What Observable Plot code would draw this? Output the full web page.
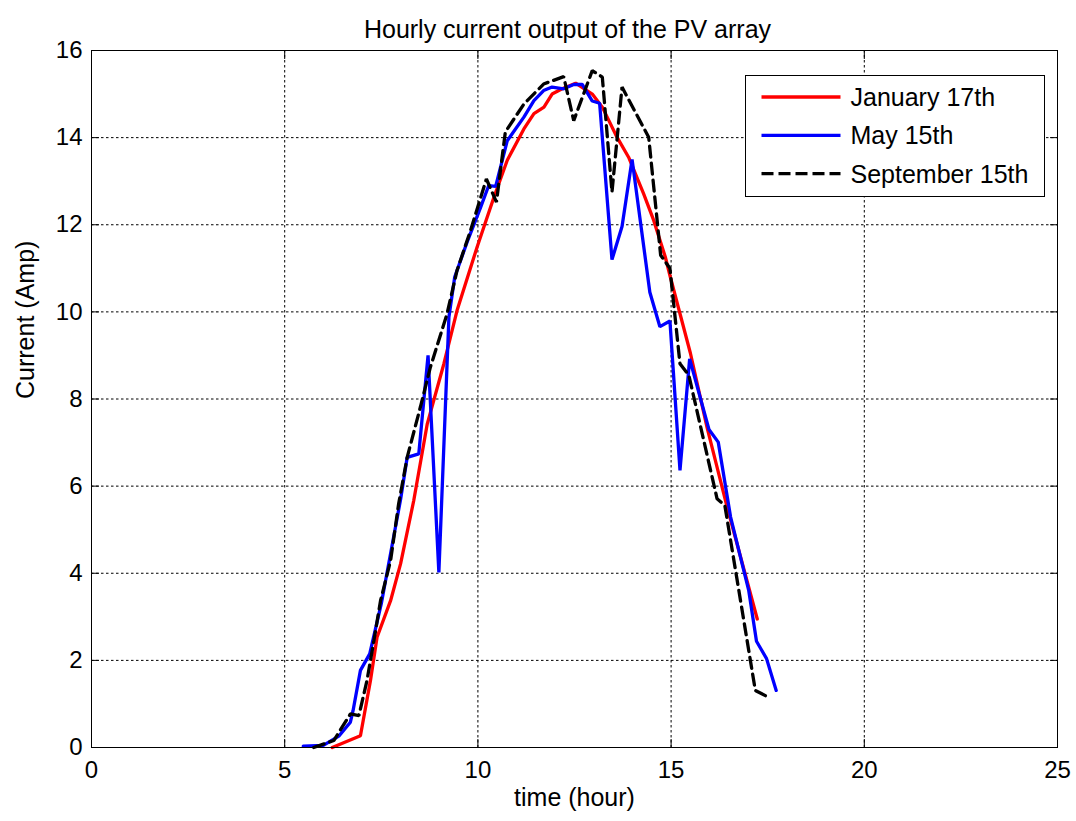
<!DOCTYPE html>
<html>
<head>
<meta charset="utf-8">
<script src="https://cdn.jsdelivr.net/npm/d3@7"></script>
<script src="https://cdn.jsdelivr.net/npm/@observablehq/plot@0.6"></script>
<style>
  html, body { margin: 0; padding: 0; background: #fff; }
  #chart { width: 1076px; height: 821px; }
</style>
</head>
<body>
<div id="chart"></div>
<script>
// ---- Data ----
const seriesNames = ["January 17th", "May 15th", "September 15th"];
const seriesColors = ["#ff0000", "#0000ff", "#000000"];

const janHours = [6.23, 6.96, 7.22, 7.39, 7.74, 8.0, 8.34, 8.69, 9.12, 9.46, 9.98, 10.41, 10.76, 11.19, 11.45, 11.71, 11.92, 12.18, 12.53, 12.96, 13.22, 13.6, 13.9, 14.29, 14.55, 14.85, 14.98, 15.5, 15.93, 16.45, 17.23];
const janCurrent = [0.0, 0.27, 1.54, 2.53, 3.37, 4.22, 5.67, 7.43, 8.81, 10.03, 11.49, 12.62, 13.48, 14.2, 14.55, 14.7, 15.0, 15.12, 15.25, 15.0, 14.7, 14.01, 13.55, 12.71, 12.1, 11.26, 10.8, 9.05, 7.35, 5.52, 2.95];

const mayHours = [5.48, 6.0, 6.4, 6.7, 6.77, 6.96, 7.2, 7.5, 7.75, 8.0, 8.17, 8.47, 8.71, 8.99, 9.25, 9.4, 9.72, 10.07, 10.28, 10.46, 10.76, 11.19, 11.45, 11.7, 11.92, 12.22, 12.48, 12.7, 12.96, 13.15, 13.47, 13.73, 13.99, 14.45, 14.71, 14.97, 15.23, 15.48, 15.98, 16.22, 16.54, 17.01, 17.21, 17.47, 17.72];
const mayCurrent = [0.03, 0.05, 0.26, 0.58, 0.85, 1.77, 2.15, 3.3, 4.5, 5.7, 6.66, 6.74, 9.0, 4.02, 9.88, 10.8, 11.6, 12.4, 12.9, 12.88, 13.93, 14.47, 14.85, 15.08, 15.16, 15.12, 15.22, 15.22, 14.84, 14.79, 11.2, 11.96, 13.5, 10.45, 9.66, 9.79, 6.36, 8.92, 7.3, 7.01, 5.29, 3.6, 2.44, 2.04, 1.31];

const sepHours = [5.75, 6.27, 6.7, 6.92, 7.13, 7.31, 7.48, 7.74, 7.95, 8.17, 8.51, 8.77, 9.2, 9.46, 9.81, 10.22, 10.48, 10.71, 11.19, 11.7, 12.22, 12.48, 12.96, 13.22, 13.47, 13.73, 14.42, 14.73, 14.97, 15.23, 15.46, 16.19, 16.39, 17.18, 17.44];
const sepCurrent = [0.0, 0.16, 0.77, 0.73, 1.54, 2.46, 3.37, 4.29, 5.6, 6.66, 7.81, 8.73, 9.95, 10.95, 11.87, 13.05, 12.52, 14.13, 14.77, 15.23, 15.4, 14.39, 15.54, 15.39, 12.75, 15.16, 14.01, 11.3, 11.0, 8.81, 8.54, 5.71, 5.56, 1.31, 1.19];

const xTicks = [0, 5, 10, 15, 20, 25];
const yTicks = [0, 2, 4, 6, 8, 10, 12, 14, 16];

const titleText = "Hourly current output of the PV array";
const xLabel = "time (hour)";
const yLabel = "Current (Amp)";

const toRows = (hs, vs) => hs.map((h, i) => ({h, v: vs[i]}));
const jan = toRows(janHours, janCurrent);
const may = toRows(mayHours, mayCurrent);
const sep = toRows(sepHours, sepCurrent);

const FONT = "'Liberation Sans', Arial, Helvetica, sans-serif";
const DASH = "11,6";

const plot = Plot.plot({
  width: 1076,
  height: 821,
  marginTop: 50,
  marginBottom: 74,
  marginLeft: 91,
  marginRight: 19,
  style: { fontFamily: FONT, fontSize: "24px", background: "#fff", color: "#000", overflow: "visible" },
  x: { domain: [0, 25], ticks: xTicks },
  y: { domain: [0, 16], ticks: yTicks },
  marks: [
    Plot.gridX(xTicks.slice(1, -1), { stroke: "#000", strokeOpacity: 1, strokeWidth: 1, strokeDasharray: "2.5,2.5" }),
    Plot.gridY(yTicks.slice(1, -1), { stroke: "#000", strokeOpacity: 1, strokeWidth: 1, strokeDasharray: "2.5,2.5" }),
    Plot.axisX(xTicks, { anchor: "bottom", tickSize: 0, tickPadding: 13, label: null, fontSize: 24 }),
    Plot.axisY(yTicks, { anchor: "left", tickSize: 0, tickPadding: 9, label: null, fontSize: 24 }),
    Plot.axisX(xTicks, { anchor: "bottom", tickSize: -8, text: null, label: null }),
    Plot.axisX(xTicks, { anchor: "top", tickSize: -8, text: null, label: null }),
    Plot.axisY(yTicks, { anchor: "left", tickSize: -8, text: null, label: null }),
    Plot.axisY(yTicks, { anchor: "right", tickSize: -8, text: null, label: null }),
    Plot.line(jan, { x: "h", y: "v", stroke: seriesColors[0], strokeWidth: 3.3, strokeLinejoin: "miter" }),
    Plot.line(may, { x: "h", y: "v", stroke: seriesColors[1], strokeWidth: 3.3, strokeLinejoin: "miter" }),
    Plot.line(sep, { x: "h", y: "v", stroke: seriesColors[2], strokeWidth: 3.3, strokeDasharray: DASH, strokeLinejoin: "miter" }),
    Plot.frame({ stroke: "#000", strokeWidth: 1 }),
    Plot.text([titleText], { frameAnchor: "top", dy: -30, dx: -7, fontSize: 25, fill: "#000" }),
    Plot.text([xLabel], { frameAnchor: "bottom", dy: 58, fontSize: 25, fill: "#000" }),
    Plot.text([yLabel], { frameAnchor: "left", dx: -66, rotate: -90, fontSize: 25, fill: "#000" })
  ]
});

document.getElementById("chart").appendChild(plot);

// Legend box (MATLAB-style, inside top-right of the axes)
const svg = d3.select(plot);
const lg = svg.append("g").attr("transform", "translate(745.5,75.5)");
lg.append("rect").attr("width", 299).attr("height", 121)
  .attr("fill", "#fff").attr("stroke", "#000").attr("stroke-width", 1);
seriesNames.forEach((name, i) => {
  const y = 21.5 + i * 38.3;
  lg.append("line").attr("x1", 16).attr("x2", 95).attr("y1", y).attr("y2", y)
    .attr("stroke", seriesColors[i]).attr("stroke-width", 3.3)
    .attr("stroke-dasharray", i === 2 ? "12,5" : null);
  lg.append("text").attr("x", 105).attr("y", y).attr("dy", "0.36em")
    .attr("text-anchor", "start")
    .attr("font-family", FONT).attr("font-size", 25).attr("fill", "#000")
    .text(name);
});
</script>
</body>
</html>
